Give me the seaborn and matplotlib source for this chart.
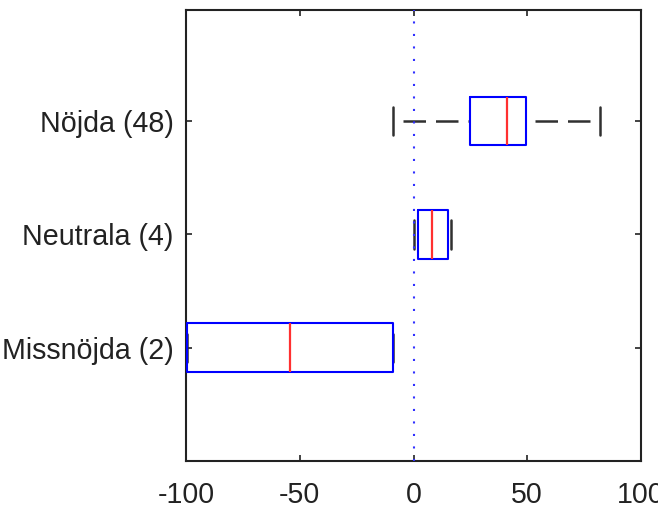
import numpy as np
import pandas as pd
import matplotlib
matplotlib.use("Agg")
import matplotlib.pyplot as plt
import seaborn as sns

# five-number summaries (satisfaction score, -100..100)
categories = ["Nöjda (48)", "Neutrala (4)", "Missnöjda (2)"]
whisker_lo = [-9.2, 0.0, -99.6]
q1 = [24.9, 1.9, -99.6]
median = [41.0, 8.0, -54.2]
q3 = [49.4, 15.1, -8.8]
whisker_hi = [82.0, 16.4, -8.8]
x_ticks = [-100, -50, 0, 50, 100]

# long-form table: the five summary values per group reproduce the quartiles exactly
rows = []
for i, cat in enumerate(categories):
    for v in (whisker_lo[i], q1[i], median[i], q3[i], whisker_hi[i]):
        rows.append({"group": cat, "score": v})
df = pd.DataFrame(rows)

sns.set_theme(style="ticks")
plt.rcParams["font.family"] = ["Liberation Sans", "DejaVu Sans"]

fig = plt.figure(figsize=(6.58, 5.08), dpi=100)
ax = fig.add_axes([186 / 658, 1 - 461 / 508, (641 - 186) / 658, (461 - 10) / 508])

sns.boxplot(
    data=df, x="score", y="group", order=categories,
    whis=(0, 100), width=0.43, fill=False, linewidth=1.5,
    boxprops=dict(color="#0000ff", linewidth=1.5, zorder=3),
    medianprops=dict(color="#ff3030", linewidth=1.6, zorder=4),
    whiskerprops=dict(color="#303030", linewidth=1.8, linestyle=(9, (9, 4)), zorder=2),
    capprops=dict(color="#303030", linewidth=1.8, zorder=2),
    capwidths=0.25,
    showfliers=False,
    ax=ax,
)

# start the dash pattern from the caps, like the original
for line in ax.lines:
    if line.get_linestyle() == "--":
        xd = np.asarray(line.get_xdata())
        yd = np.asarray(line.get_ydata())
        line.set_data(xd[::-1], yd[::-1])

ax.axvline(0, color="#3030ff", linestyle=(0, (1, 5)), linewidth=1.5, zorder=5)

ax.set_xlim(-100, 100)
ax.set_ylim(3.0, -0.98)
ax.set_xticks(x_ticks)
ax.set_xticklabels([str(t) for t in x_ticks])
ax.set_xlabel("")
ax.set_ylabel("")

for side in ["top", "right", "bottom", "left"]:
    ax.spines[side].set_visible(True)
    ax.spines[side].set_color("#222222")
    ax.spines[side].set_linewidth(1.5)

ax.tick_params(axis="both", direction="in", length=4, width=1.2, color="#222222",
               top=True, right=True, labelsize=20.6, labelcolor="#222222")
ax.tick_params(axis="x", pad=14.5)
ax.tick_params(axis="y", pad=9)

fig.savefig("out.png", dpi=100, facecolor="white")
